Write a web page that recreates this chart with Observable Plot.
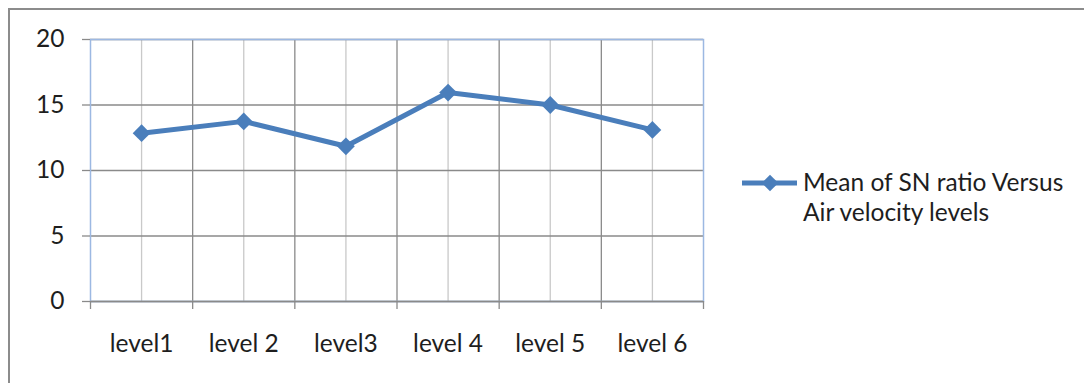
<!DOCTYPE html>
<html>
<head>
<meta charset="utf-8">
<script src="https://cdn.jsdelivr.net/npm/d3@7"></script>
<script src="https://cdn.jsdelivr.net/npm/@observablehq/plot@0.6"></script>
<style>
  body { margin: 0; background: #fff; }
  #wrap { position: relative; width: 1084px; height: 383px; overflow: hidden; font-family: Lato, "Open Sans", sans-serif; }
  #frame { position: absolute; left: 8px; top: 8px; width: 1200px; height: 500px; border: 2px solid #8c8c8c; box-sizing: border-box; pointer-events: none; }
  #chart { position: absolute; left: 0; top: 0; }
  #legend { position: absolute; left: 742px; top: 167px; display: flex; align-items: flex-start; }
  #legend svg { display: block; margin-top: 0px; }
  #legend .label { font-size: 24.5px; line-height: 30px; color: #1e1e1e; margin-left: 5px; width: 290px; }
</style>
</head>
<body>
<div id="wrap">
  <div id="chart"></div>
  <div id="frame"></div>
  <div id="legend"></div>
</div>
<script>
// Mean signal-to-noise ratio at each air velocity level
const levels = ["level1", "level 2", "level3", "level 4", "level 5", "level 6"];
const snMeans = [12.85, 13.75, 11.85, 15.95, 15.0, 13.1];
const yTicks = [0, 5, 10, 15, 20];
const seriesName = "Mean of SN ratio Versus Air velocity levels";

const lineColor = "#4a7ebb";
const gridDark = "#8a8a8a";
const gridLight = "#c9c9c9";

const rows = levels.map((level, i) => ({ i, level, value: snMeans[i] }));
const centers = levels.map((_, i) => i);
const bounds = d3.range(levels.length + 1).map(i => i - 0.5);

const chart = Plot.plot({
  width: 1084,
  height: 383,
  marginLeft: 90,
  marginRight: 381,
  marginTop: 39,
  marginBottom: 82,
  style: { fontFamily: "Lato, 'Open Sans', sans-serif", fontSize: "24.5px", color: "#1e1e1e", background: "transparent" },
  x: { type: "linear", domain: [-0.5, levels.length - 0.5] },
  y: { domain: [0, 20] },
  marks: [
    // light gridlines through each category, darker ones between categories
    Plot.ruleX(centers, { stroke: gridLight, strokeWidth: 1.3 }),
    Plot.ruleX(bounds.slice(1, -1), { stroke: gridDark, strokeWidth: 1.3 }),
    Plot.ruleY(yTicks, { stroke: gridDark, strokeWidth: 1.3 }),
    Plot.frame({ stroke: "#9cb8e2", strokeWidth: 1.5 }),
    Plot.ruleY([0], { stroke: gridDark, strokeWidth: 1.5 }),
    Plot.axisY({ ticks: yTicks, tickSize: 8, tickPadding: 18, stroke: gridDark, strokeWidth: 1.3, label: null }),
    Plot.axisX({ ticks: bounds, tickSize: 8, tickFormat: () => "", stroke: gridDark, strokeWidth: 1.3, label: null }),
    Plot.axisX({ ticks: centers, tickSize: 0, tickPadding: 33, tickFormat: i => levels[i], label: null }),
    Plot.line(rows, { x: "i", y: "value", stroke: lineColor, strokeWidth: 5, strokeLinejoin: "round" }),
    Plot.dot(rows, { x: "i", y: "value", symbol: "diamond2", r: 8, fill: lineColor, stroke: "none" })
  ]
});
document.getElementById("chart").appendChild(chart);

// Legend: series swatch plus its two-line label
const legend = d3.select("#legend");
const sw = legend.append("svg").attr("width", 56).attr("height", 32);
sw.append("line").attr("x1", 0).attr("x2", 55).attr("y1", 16).attr("y2", 16)
  .attr("stroke", lineColor).attr("stroke-width", 5);
sw.append("path").attr("d", d3.symbol(d3.symbolDiamond2, Math.PI * 7.5 * 7.5)())
  .attr("transform", "translate(28,16)").attr("fill", lineColor);
legend.append("div").attr("class", "label").text(seriesName);
</script>
</body>
</html>
